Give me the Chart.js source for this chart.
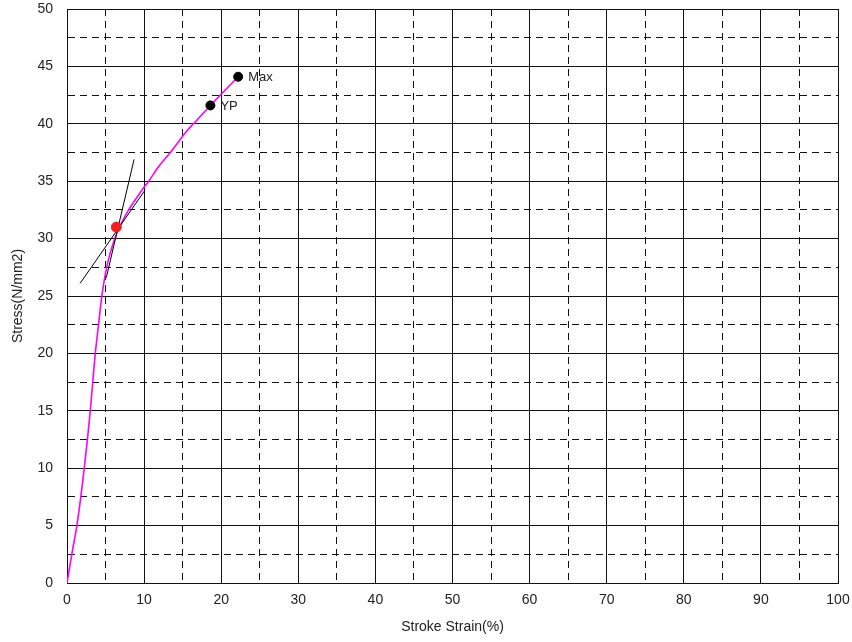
<!DOCTYPE html>
<html>
<head>
<meta charset="utf-8">
<script src="https://cdn.jsdelivr.net/npm/chart.js@4.4.1/dist/chart.umd.min.js"></script>
<style>
  body { margin: 0; background: #fff; }
  canvas { display: block; }
</style>
</head>
<body>
<canvas id="chartStress" width="852" height="642"></canvas>
<script>
// curve
const strain = [0, 0.65, 1.33, 2.24, 3.02, 3.67, 4.06, 4.5, 5.15, 6.2, 7.1, 7.9, 9.7, 10.6, 11.8, 13.4, 15.7, 16.4, 18.6, 22.2]
const stress = [0, 2.6, 5.2, 10, 15, 20, 22.3, 24.9, 27.5, 30.0, 31.4, 32.4, 34.2, 35.0, 36.2, 37.5, 39.5, 40.0, 41.6, 44.1]

// marked points
const markLabels = ['YP', 'Max']
const markStrain = [18.6, 22.2]
const markStress = [41.6, 44.1]

const redStrain = [6.4]
const redStress = [31.0]

// tangent lines
const tan1Strain = [1.7, 10.1]
const tan1Stress = [26.1, 34.2]
const tan2Strain = [5.1, 8.7]
const tan2Stress = [26.6, 36.9]

const xTicks = { min: 0, max: 100, step: 5 }
const yTicks = { min: 0, max: 50, step: 2.5 }

const toXY = (xs, ys) => xs.map((x, i) => ({ x: x, y: ys[i] }))

const fontName = "'Liberation Sans', Arial, sans-serif"

const markLabelPlugin = {
  id: 'markLabels',
  afterDatasetsDraw(chart) {
    const c = chart.ctx
    const xs = chart.scales.x
    const ys = chart.scales.y
    c.save()
    c.font = '13px ' + fontName
    c.fillStyle = '#222'
    c.textBaseline = 'middle'
    c.textAlign = 'left'
    markLabels.forEach((lab, i) => {
      c.fillText(lab, xs.getPixelForValue(markStrain[i]) + 10, ys.getPixelForValue(markStress[i]) + 1)
    })
    c.restore()
  }
}

const dashed = (ctx) => (ctx.tick && ctx.tick.value % 10 !== 0 && ctx.scale.axis === 'x') ? [7, 5]
  : (ctx.tick && ctx.tick.value % 5 !== 0 && ctx.scale.axis === 'y') ? [7, 5] : []

const chartStress = new Chart(document.getElementById('chartStress'), {
  type: 'line',
  data: {
    datasets: [
      {
        label: 'marks',
        data: toXY(markStrain, markStress),
        showLine: false,
        pointRadius: 4.5,
        pointBackgroundColor: '#000',
        pointBorderColor: '#000',
        order: 0
      },
      {
        label: 'red',
        data: toXY(redStrain, redStress),
        showLine: false,
        pointRadius: 5,
        pointBackgroundColor: '#f02020',
        pointBorderColor: '#f02020',
        order: 0
      },
      {
        label: 'tan1',
        data: toXY(tan1Strain, tan1Stress),
        borderColor: '#000',
        borderWidth: 1,
        pointRadius: 0,
        order: 1
      },
      {
        label: 'tan2',
        data: toXY(tan2Strain, tan2Stress),
        borderColor: '#000',
        borderWidth: 1,
        pointRadius: 0,
        order: 1
      },
      {
        label: 'curve',
        data: toXY(strain, stress),
        borderColor: '#ff00ff',
        borderWidth: 1.6,
        pointRadius: 0,
        cubicInterpolationMode: 'monotone',
        order: 2
      }
    ]
  },
  options: {
    responsive: false,
    animation: false,
    layout: { padding: { top: 9, right: 14, left: 0, bottom: 0 } },
    plugins: {
      legend: { display: false },
      tooltip: { enabled: false }
    },
    scales: {
      x: {
        type: 'linear',
        min: xTicks.min,
        max: xTicks.max,
        afterFit(scale) {
          scale.height = 59
          scale.paddingLeft = 0
          scale.paddingRight = 0
        },
        ticks: {
          stepSize: xTicks.step,
          autoSkip: false,
          maxRotation: 0,
          padding: 9,
          color: '#222',
          font: { family: fontName, size: 14 },
          callback: (v) => v % 10 === 0 ? v : ''
        },
        grid: { color: '#111', lineWidth: 1, drawTicks: false },
        border: { color: '#111', width: 1, dash: dashed },
        title: {
          display: true,
          text: 'Stroke Strain(%)',
          color: '#222',
          font: { family: fontName, size: 14 },
          padding: { top: 0, bottom: 6 }
        }
      },
      y: {
        type: 'linear',
        min: yTicks.min,
        max: yTicks.max,
        afterFit(scale) {
          scale.width = 67
          scale.paddingTop = 0
          scale.paddingBottom = 0
        },
        ticks: {
          stepSize: yTicks.step,
          autoSkip: false,
          padding: 14,
          color: '#222',
          font: { family: fontName, size: 14 },
          callback: (v) => v % 5 === 0 ? v : ''
        },
        grid: { color: '#111', lineWidth: 1, drawTicks: false },
        border: { color: '#111', width: 1, dash: dashed },
        title: {
          display: true,
          text: 'Stress(N/mm2)',
          color: '#222',
          font: { family: fontName, size: 14 },
          padding: { top: 10, bottom: 0 }
        }
      }
    }
  },
  plugins: [markLabelPlugin]
});
</script>
</body>
</html>
